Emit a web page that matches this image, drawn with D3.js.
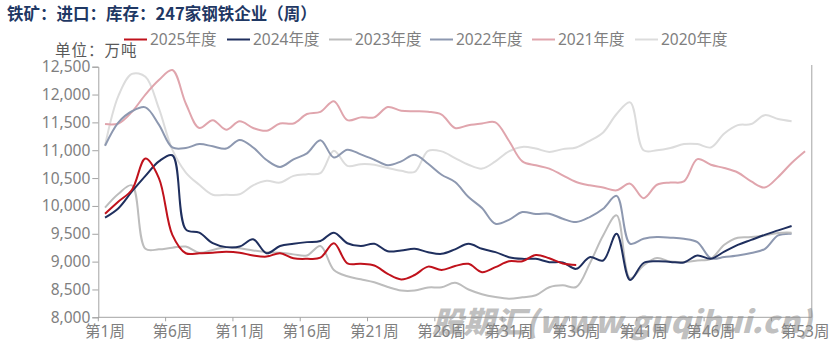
<!DOCTYPE html>
<html><head><meta charset="utf-8">
<script src="https://cdn.jsdelivr.net/npm/d3@7/dist/d3.min.js"></script>
<style>
html,body{margin:0;padding:0;background:#fff;}
svg{display:block;}
</style></head>
<body>
<svg id="chart" width="838" height="349"></svg>
<script>
// ---- data ----
const title = "铁矿：进口：库存：247家钢铁企业（周）";
const unitLabel = "单位：万吨";
const seriesNames = ["2025年度","2024年度","2023年度","2022年度","2021年度","2020年度"];
const seriesColors = ["#C0121C","#1F2F5E","#BDBDBD","#8D98B0","#E0A5AD","#DCDCDC"];
const weeks = d3.range(1, 54);
const xTickWeeks = [1,6,11,16,21,26,31,36,41,46,53];
const yTicks = [8000,8500,9000,9500,10000,10500,11000,11500,12000,12500];

const v2025 = [9860,10080,10290,10850,10500,9480,9150,9150,9160,9175,9160,9110,9090,9150,9060,9050,9070,9330,8970,8960,8930,8780,8680,8760,8910,8850,8920,8960,8810,8900,9005,9005,9120,9060,8965,8940];
const v2024 = [9790,9960,10260,10540,10800,10910,9580,9520,9330,9260,9270,9400,9150,9280,9320,9350,9370,9520,9330,9280,9320,9185,9200,9230,9170,9140,9220,9320,9230,9170,9080,9050,9050,8990,8985,8870,9080,9020,9500,8670,8975,9005,8995,8985,9110,9050,9180,9300,9390,9480,9560,9640];
const v2023 = [9970,10220,10370,9230,9220,9250,9270,9160,9210,9260,9240,9200,9170,9160,9130,9110,9280,8850,8736,8682,8628,8544,8480,8480,8535,8540,8620,8500,8415,8364,8334,8358,8395,8540,8574,8544,8962,9470,9830,8700,8933,9064,9000,8995,9020,9050,9303,9429,9440,9470,9515,9520];
const v2022 = [11080,11500,11700,11770,11460,11050,11040,11110,11070,11030,11185,11050,10824,10700,10836,10944,11180,10870,11010,10925,10830,10730,10800,10920,10757,10560,10429,10160,9962,9680,9750,9890,9855,9860,9770,9710,9800,9950,10180,9321,9410,9440,9430,9410,9350,9060,9082,9110,9155,9225,9470,9500];
const v2021 = [11470,11480,11690,12000,12260,12440,11840,11400,11540,11370,11520,11400,11350,11480,11480,11650,11690,11880,11540,11590,11590,11775,11710,11700,11690,11640,11400,11450,11480,11500,11170,10800,10730,10670,10550,10430,10370,10330,10280,10400,10140,10380,10420,10440,10840,10740,10680,10600,10440,10330,10520,10770,10980];
const v2020 = [11080,11980,12370,12320,11750,11010,10600,10380,10200,10200,10210,10370,10450,10420,10540,10570,10590,10990,10720,10750,10740,10680,10630,10610,10990,10980,10860,10740,10670,10800,10980,11060,11030,10970,11020,11050,11170,11320,11650,11860,11000,11000,11040,11110,11110,11050,11300,11450,11470,11630,11560,11520];
const seriesValues = [v2025, v2024, v2023, v2022, v2021, v2020];
const watermark = "股期汇(www.guqihui.cn)";

// ---- layout ----
const svg = d3.select("#chart");
const pLeft = 98.3, pRight = 811.8, pTop = 66.7, pBottom = 317.3;
const axisColor = "#a3a3a3";
const labelColor = "#7f7f7f";
const numFont = "'Noto Sans','Noto Sans CJK SC',sans-serif";

const x = d3.scaleBand().domain(weeks).range([pLeft, pRight]).paddingInner(0).paddingOuter(0);
const cx = w => x(w) + x.bandwidth() / 2;
const y = d3.scaleLinear().domain([8000, 12500]).range([pBottom, pTop]);

// title
svg.append("text").attr("x", 7).attr("y", 20)
  .attr("font-family", "'Noto Sans CJK SC',sans-serif").attr("font-weight", 700)
  .attr("font-size", 16.5).attr("fill", "#1F3864").text(title);

// unit
svg.append("text").attr("x", 55).attr("y", 56)
  .attr("font-family", "'Noto Sans CJK SC',sans-serif")
  .attr("font-size", 15.5).attr("letter-spacing", 1).attr("fill", "#595959").text(unitLabel);

// legend
const legX = [124, 227, 329, 430, 532, 635];
const leg = svg.append("g");
seriesNames.forEach((n, i) => {
  const g = leg.append("g").attr("transform", `translate(${legX[i]},39.5)`);
  g.append("line").attr("x1", 0).attr("x2", 23).attr("y1", 0).attr("y2", 0)
    .attr("stroke", seriesColors[i]).attr("stroke-width", 2);
  g.append("text").attr("x", 26).attr("y", 5.5)
    .attr("font-family", numFont).attr("font-size", 15.5).attr("fill", labelColor).text(n);
});

// y axis
const yAxis = svg.append("g").attr("transform", `translate(${pLeft},0)`)
  .call(d3.axisLeft(y).tickValues(yTicks).tickSize(6).tickPadding(2).tickFormat(d3.format(",")));
yAxis.select(".domain").attr("stroke", axisColor);
yAxis.selectAll(".tick line").attr("stroke", axisColor);
yAxis.selectAll("text").attr("font-family", numFont).attr("font-size", 15.5).attr("fill", labelColor);

// x axis
svg.append("line").attr("x1", pLeft).attr("x2", pRight).attr("y1", pBottom).attr("y2", pBottom)
  .attr("stroke", axisColor);
const tickEdges = weeks.filter(w => (w - 1) % 5 === 0).map(w => x(w));
svg.append("g").selectAll("line").data(tickEdges).join("line")
  .attr("x1", d => d).attr("x2", d => d).attr("y1", pBottom).attr("y2", pBottom + 4)
  .attr("stroke", axisColor);
svg.append("g").selectAll("text").data(xTickWeeks).join("text")
  .attr("x", d => cx(d)).attr("y", 337).attr("text-anchor", "middle")
  .attr("font-family", numFont).attr("font-size", 15.5).attr("fill", labelColor)
  .text(d => `第${d}周`);

// right border line
svg.append("line").attr("x1", pRight).attr("x2", pRight).attr("y1", 65).attr("y2", pBottom)
  .attr("stroke", axisColor);

// lines
const line = d3.line().x((d, i) => cx(weeks[i])).y(d => y(d)).curve(d3.curveCatmullRom.alpha(0.5));
const order = [5, 4, 3, 2, 1, 0];
svg.append("g").selectAll("path").data(order).join("path")
  .attr("d", i => line(seriesValues[i]))
  .attr("fill", "none").attr("stroke", i => seriesColors[i]).attr("stroke-width", 2)
  .attr("stroke-linejoin", "round");

// watermark
svg.append("text").attr("x", 432).attr("y", 333)
  .attr("font-family", "'Noto Sans CJK SC',sans-serif").attr("font-weight", 900)
  .attr("font-style", "italic").attr("font-size", 30)
  .attr("textLength", 380).attr("lengthAdjust", "spacingAndGlyphs")
  .attr("fill", "#8a8a8a").attr("fill-opacity", 0.55).text(watermark);
</script>
</body></html>
